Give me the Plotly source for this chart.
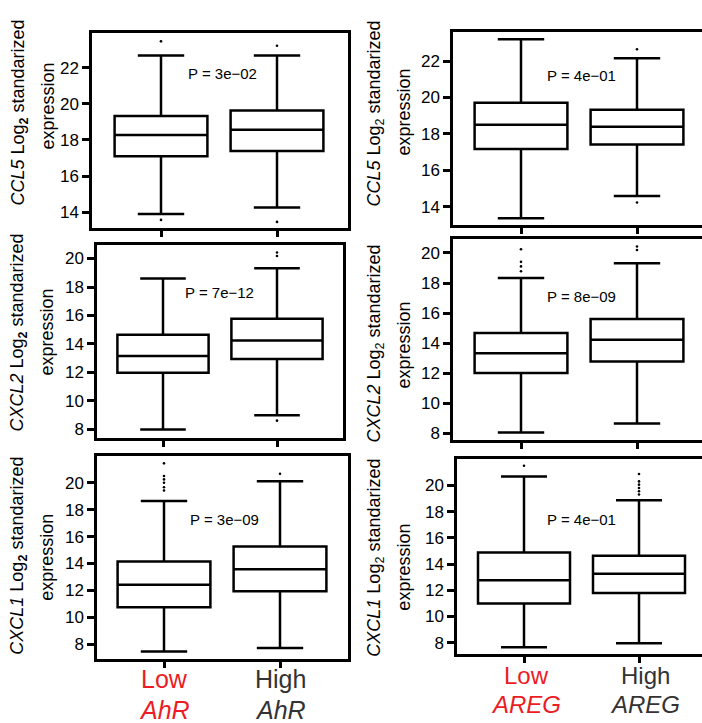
import plotly.graph_objects as go

W, H = 702, 723

# ---------------- data ----------------
groups = ["Low", "High"]
genes = ["CCL5", "CXCL2", "CXCL1"]
factors = ["AhR", "AREG"]

# per panel: [Low, High]
ccl5_ahr_lf = [13.9, 14.26]; ccl5_ahr_q1 = [17.1, 17.39]; ccl5_ahr_med = [18.28, 18.56]
ccl5_ahr_q3 = [19.33, 19.63]; ccl5_ahr_uf = [22.68, 22.68]
ccl5_ahr_out = [[23.46, 13.57], [23.22, 13.46]]

ccl5_areg_lf = [13.38, 14.6]; ccl5_areg_q1 = [17.18, 17.42]; ccl5_areg_med = [18.51, 18.4]
ccl5_areg_q3 = [19.71, 19.33]; ccl5_areg_uf = [23.2, 22.15]
ccl5_areg_out = [[], [22.65, 14.24]]

cxcl2_ahr_lf = [8.0, 9.0]; cxcl2_ahr_q1 = [11.98, 12.95]; cxcl2_ahr_med = [13.16, 14.25]
cxcl2_ahr_q3 = [14.65, 15.77]; cxcl2_ahr_uf = [18.6, 19.32]
cxcl2_ahr_out = [[], [20.42, 20.18, 8.62]]

cxcl2_areg_lf = [8.07, 8.66]; cxcl2_areg_q1 = [12.02, 12.79]; cxcl2_areg_med = [13.34, 14.23]
cxcl2_areg_q3 = [14.69, 15.62]; cxcl2_areg_uf = [18.33, 19.32]
cxcl2_areg_out = [[20.25, 19.41, 19.11, 18.79], [20.43, 20.2]]

cxcl1_ahr_lf = [7.46, 7.73]; cxcl1_ahr_q1 = [10.76, 11.95]; cxcl1_ahr_med = [12.42, 13.58]
cxcl1_ahr_q3 = [14.15, 15.26]; cxcl1_ahr_uf = [18.64, 20.12]
cxcl1_ahr_out = [[21.44, 20.5, 20.25, 20.0, 19.67, 19.43], [20.67]]

cxcl1_areg_lf = [7.65, 7.97]; cxcl1_areg_q1 = [10.99, 11.8]; cxcl1_areg_med = [12.76, 13.26]
cxcl1_areg_q3 = [14.88, 14.63]; cxcl1_areg_uf = [20.68, 18.86]
cxcl1_areg_out = [[21.49], [20.86, 20.3, 20.05, 19.8, 19.55, 19.3]]

p_values = ["P = 3e\u221202", "P = 4e\u221201", "P = 7e\u221212",
            "P = 8e\u221209", "P = 3e\u221209", "P = 4e\u221201"]

y_ticks_ccl5 = [14, 16, 18, 20, 22]
y_ticks_cxcl = [8, 10, 12, 14, 16, 18, 20]

panels = [
    dict(gene="CCL5", col=0, stats=(ccl5_ahr_lf, ccl5_ahr_q1, ccl5_ahr_med, ccl5_ahr_q3, ccl5_ahr_uf), out=ccl5_ahr_out, ticks=y_ticks_ccl5),
    dict(gene="CCL5", col=1, stats=(ccl5_areg_lf, ccl5_areg_q1, ccl5_areg_med, ccl5_areg_q3, ccl5_areg_uf), out=ccl5_areg_out, ticks=y_ticks_ccl5),
    dict(gene="CXCL2", col=0, stats=(cxcl2_ahr_lf, cxcl2_ahr_q1, cxcl2_ahr_med, cxcl2_ahr_q3, cxcl2_ahr_uf), out=cxcl2_ahr_out, ticks=y_ticks_cxcl),
    dict(gene="CXCL2", col=1, stats=(cxcl2_areg_lf, cxcl2_areg_q1, cxcl2_areg_med, cxcl2_areg_q3, cxcl2_areg_uf), out=cxcl2_areg_out, ticks=y_ticks_cxcl),
    dict(gene="CXCL1", col=0, stats=(cxcl1_ahr_lf, cxcl1_ahr_q1, cxcl1_ahr_med, cxcl1_ahr_q3, cxcl1_ahr_uf), out=cxcl1_ahr_out, ticks=y_ticks_cxcl),
    dict(gene="CXCL1", col=1, stats=(cxcl1_areg_lf, cxcl1_areg_q1, cxcl1_areg_med, cxcl1_areg_q3, cxcl1_areg_uf), out=cxcl1_areg_out, ticks=y_ticks_cxcl),
]

# ---------------- layout geometry (pixels) ----------------
geom = [
    dict(x0=92, x1=348, y0=33, y1=229, c0=161, c1=277, yr=[13.12, 23.93]),
    dict(x0=453, x1=702, y0=32, y1=226, c0=521, c1=637, yr=[13.0, 23.6]),
    dict(x0=97, x1=343, y0=246, y1=440, c0=163, c1=277, yr=[7.39, 20.95]),
    dict(x0=453, x1=702, y0=240, y1=442, c0=521, c1=637, yr=[7.56, 20.93]),
    dict(x0=97, x1=348, y0=458, y1=662, c0=164, c1=280, yr=[6.89, 21.98]),
    dict(x0=457, x1=702, y0=461, y1=657, c0=524, c1=639, yr=[7.12, 22.0]),
]
pval_pos = [(222, 74), (581, 76), (220, 294), (581, 298), (224, 522), (581, 522)]
title_pos = [  # (line1 x, line1 y, line2 x, line2 y)
    (20, 113, 48, 107), (376, 114, 404, 113),
    (19, 334, 47, 334), (376, 345, 404, 347),
    (19, 558, 47, 560), (376, 560, 404, 570),
]

RED = "#ec1c24"
DARK = "#333333"
FONT = "Liberation Sans, Arial, Helvetica, sans-serif"
LW = 2.5

fig = go.Figure()
layout = dict(width=W, height=H, margin=dict(l=0, r=0, t=0, b=0), autosize=False,
              paper_bgcolor="white", plot_bgcolor="white", showlegend=False,
              font=dict(family=FONT, color="black"))
annotations = []

def px(x):
    return x / W

def py(y):
    return 1 - y / H

for i, (p, g) in enumerate(zip(panels, geom)):
    n = i + 1
    xa = "x" if n == 1 else f"x{n}"
    ya = "y" if n == 1 else f"y{n}"
    lf, q1, med, q3, uf = p["stats"]
    fig.add_trace(go.Box(x=[0, 1], lowerfence=lf, q1=q1, median=med, q3=q3, upperfence=uf,
                         width=0.8, whiskerwidth=0.5, fillcolor="white",
                         line=dict(color="black", width=LW), boxpoints=False,
                         xaxis=xa, yaxis=ya, hoverinfo="skip"))
    ox, oy = [], []
    for gi, vals in enumerate(p["out"]):
        for v in vals:
            ox.append(gi); oy.append(v)
    fig.add_trace(go.Scatter(x=ox, y=oy, mode="markers", xaxis=xa, yaxis=ya,
                             marker=dict(color="black", size=2.6), hoverinfo="skip"))
    unit = g["c1"] - g["c0"]
    xr = [-(g["c0"] - g["x0"]) / unit, 1 + (g["x1"] - g["c1"]) / unit]
    layout["xaxis" if n == 1 else f"xaxis{n}"] = dict(
        domain=[px(g["x0"]), px(g["x1"])], range=xr, anchor=ya,
        tickvals=[0, 1], showticklabels=False, ticks="outside", ticklen=6, tickwidth=LW,
        tickcolor="black", showline=True, linewidth=LW, linecolor="black", mirror=True,
        showgrid=False, zeroline=False, fixedrange=True)
    layout["yaxis" if n == 1 else f"yaxis{n}"] = dict(
        domain=[py(g["y1"]), py(g["y0"])], range=g["yr"], anchor=xa,
        tickvals=p["ticks"], ticks="outside", ticklen=7, tickwidth=LW, tickcolor="black",
        tickfont=dict(size=17, family=FONT, color="black"),
        showline=True, linewidth=LW, linecolor="black", mirror=(p["col"] == 0),
        showgrid=False, zeroline=False, fixedrange=True)
    annotations.append(dict(text=p_values[i], x=px(pval_pos[i][0]), y=py(pval_pos[i][1]),
                            xref="paper", yref="paper", showarrow=False,
                            xanchor="center", yanchor="middle",
                            font=dict(size=15, family=FONT, color="black")))
    sub = "<sub><b>2</b></sub>" if p["col"] == 0 else "<sub>2</sub>"
    t = title_pos[i]
    annotations.append(dict(text=f"<i>{p['gene']}</i> Log{sub} standarized",
                            x=px(t[0]), y=py(t[1]), xref="paper", yref="paper",
                            showarrow=False, textangle=-90, xanchor="center", yanchor="middle",
                            font=dict(size=18, family=FONT, color="black")))
    annotations.append(dict(text="expression", x=px(t[2]), y=py(t[3]), xref="paper", yref="paper",
                            showarrow=False, textangle=-90, xanchor="center", yanchor="middle",
                            font=dict(size=18, family=FONT, color="black")))

xlab = [
    dict(col=0, factor=factors[0], size=25, y1=682, y2=713, xs=[164, 280]),
    dict(col=1, factor=factors[1], size=24, y1=678, y2=707, xs=[526, 645]),
]
for L in xlab:
    for gi, grp in enumerate(groups):
        col = RED if gi == 0 else DARK
        annotations.append(dict(text=grp, x=px(L["xs"][gi]), y=py(L["y1"]), xref="paper", yref="paper",
                                showarrow=False, xanchor="center", yanchor="middle",
                                font=dict(size=L["size"], family=FONT, color=col)))
        annotations.append(dict(text=f"<i>{L['factor']}</i>", x=px(L["xs"][gi]), y=py(L["y2"]),
                                xref="paper", yref="paper", showarrow=False,
                                xanchor="center", yanchor="middle",
                                font=dict(size=L["size"], family=FONT, color=col)))

layout["annotations"] = annotations
fig.update_layout(**layout)
fig.write_html("out.html")
